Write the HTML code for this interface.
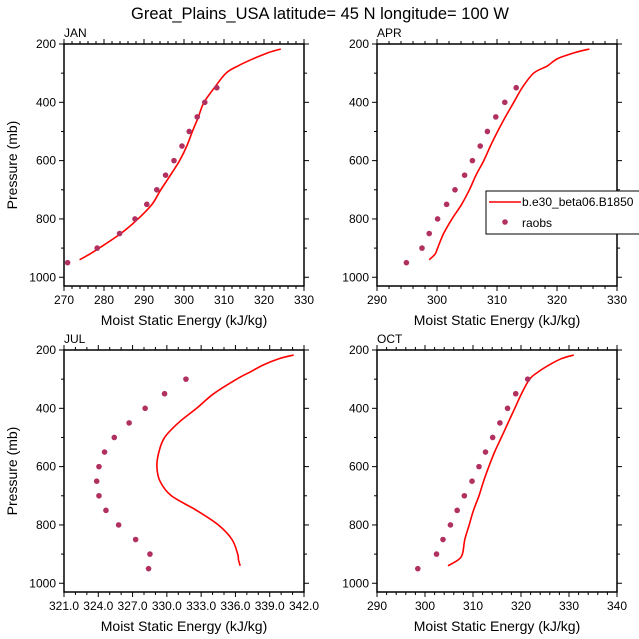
<!DOCTYPE html>
<html><head><meta charset="utf-8"><style>
body{margin:0;background:#fff}
svg{display:block;font-family:"Liberation Sans",sans-serif}
</style></head><body>
<svg id="c" width="639" height="639" viewBox="0 0 639 639">
<text x="320" y="19" text-anchor="middle" font-size="16.5">Great_Plains_USA  latitude= 45 N longitude= 100 W</text>
</svg>
<script>
const months = ["JAN","APR","JUL","OCT"];
const pLevels = [950,900,850,800,750,700,650,600,550,500,450,400,350,300];
const obsJAN = [270.9,278.3,283.9,287.75,290.7,293.2,295.4,297.5,299.5,301.3,303.3,305.2,308.2];
const obsAPR = [294.9,297.5,298.7,300.1,301.6,303.0,304.6,305.9,307.2,308.4,309.8,311.3,313.2];
const obsJUL = [328.4,328.52,327.27,325.78,324.67,324.06,323.86,324.06,324.55,325.4,326.7,328.1,329.8,331.67];
const obsOCT = [298.5,302.4,303.75,305.3,306.7,308.2,309.8,311.25,312.6,314.1,315.6,317.2,318.9,321.4];
const modP = [940,920,900,850,800,750,700,650,600,550,500,450,400,350,300,275,250,230,217];
const modJAN = [273.9,276.5,278.8,284.2,288.5,292.0,294.2,296.6,298.9,300.7,302.1,303.6,305.0,307.6,310.5,313.5,317.4,321,324.2];
const modAPR = [298.7,299.7,300.1,301.1,302.5,304.1,305.4,306.5,307.8,308.9,310.1,311.4,312.8,314.2,316.1,318.4,320.1,322.9,325.4];
const modJUL = [336.42,336.27,336.2,335.7,334.5,332.6,330.4,329.4,329.13,329.3,329.8,331.0,332.6,334.1,336.1,337.3,338.5,339.8,341.1];
const modOCT = [304.8,306.9,307.8,308.3,309.2,310.1,311.25,312.2,313.3,314.5,315.9,317.3,318.7,320.1,321.8,323.6,326,328.4,331];
const xTicksJAN = [270,280,290,300,310,320,330];
const xTicksAPR = [290,300,310,320,330];
const xTicksJUL = ["321.0","324.0","327.0","330.0","333.0","336.0","339.0","342.0"];
const xTicksOCT = [290,300,310,320,330,340];
const yTicks = [200,400,600,800,1000];

const NS="http://www.w3.org/2000/svg";
const svg=document.getElementById('c');
function mk(tag,attrs,parent){const e=document.createElementNS(NS,tag);for(const k in attrs)e.setAttribute(k,attrs[k]);(parent||svg).appendChild(e);return e;}
function smooth(P){
 let d='M'+P[0][0].toFixed(1)+','+P[0][1].toFixed(1);
 for(let i=0;i<P.length-1;i++){
  const p0=P[i-1]||P[i],p1=P[i],p2=P[i+1],p3=P[i+2]||P[i+1];
  const c1=[p1[0]+(p2[0]-p0[0])/6,p1[1]+(p2[1]-p0[1])/6];
  const c2=[p2[0]-(p3[0]-p1[0])/6,p2[1]-(p3[1]-p1[1])/6];
  d+=' C'+c1.map(v=>v.toFixed(1)).join(',')+' '+c2.map(v=>v.toFixed(1)).join(',')+' '+p2.map(v=>v.toFixed(1)).join(',');
 }
 return d;
}

const panels=[
 {name:"jan",label:"JAN",L:64,T:44,xmin:270,xmax:330,minor:2,ticks:xTicksJAN,obs:obsJAN,mod:modJAN,ylab:true},
 {name:"apr",label:"APR",L:377,T:44,xmin:290,xmax:330,minor:2,ticks:xTicksAPR,obs:obsAPR,mod:modAPR,ylab:false},
 {name:"jul",label:"JUL",L:64,T:350,xmin:321,xmax:342,minor:1,ticks:xTicksJUL,obs:obsJUL,mod:modJUL,ylab:true},
 {name:"oct",label:"OCT",L:377,T:350,xmin:290,xmax:340,minor:2,ticks:xTicksOCT,obs:obsOCT,mod:modOCT,ylab:false}
];
const W=240,H=242,PMIN=200,PMAX=1030;
panels.forEach(pn=>{
 const g=mk('g',{});
 
 
 const xs=v=>pn.L+(v-pn.xmin)/(pn.xmax-pn.xmin)*W;
 const ys=p=>pn.T+(p-PMIN)/(PMAX-PMIN)*H;
 const B=pn.T+H,R=pn.L+W;
 for(let v=pn.xmin;v<=pn.xmax+1e-6;v+=pn.minor){
  const x=xs(v);const maj=pn.ticks.some(t=>Math.abs(parseFloat(t)-v)<1e-6);
  const len=maj?5:3;
  mk('line',{x1:x,x2:x,y1:B,y2:B+len,stroke:'#000','stroke-width':1},g);
  mk('line',{x1:x,x2:x,y1:pn.T,y2:pn.T-len,stroke:'#000','stroke-width':1},g);
 }
 for(let p=200;p<=1000;p+=100){
  const y=ys(p);const maj=p%200===0;const len=maj?5:3;
  mk('line',{x1:pn.L-len,x2:pn.L,y1:y,y2:y,stroke:'#000','stroke-width':1},g);
  mk('line',{x1:R,x2:R+len,y1:y,y2:y,stroke:'#000','stroke-width':1},g);
 }
 mk('rect',{x:pn.L,y:pn.T,width:W,height:H,fill:'none',stroke:'#000','stroke-width':1.5},g);
 pn.ticks.forEach(t=>{
  const e=mk('text',{x:xs(parseFloat(t)),y:B+18,'text-anchor':'middle','font-size':12},g);
  e.textContent=t;
  
  
 });
 yTicks.forEach(t=>{
  const e=mk('text',{x:pn.L-8,y:ys(t)+4,'text-anchor':'end','font-size':12},g);
  e.textContent=t;
  
  
 });
 const xt=mk('text',{x:pn.L+W/2,y:B+39,'text-anchor':'middle','font-size':14},g);
 xt.textContent="Moist Static Energy (kJ/kg)";
 
 
 if(pn.ylab){
  const yt=mk('text',{x:0,y:0,'text-anchor':'middle','font-size':14,transform:`translate(17,${pn.T+H/2}) rotate(-90)`},g);
  yt.textContent="Pressure (mb)";
  
  
 }
 const lb=mk('text',{x:pn.L,y:pn.T-7,'font-size':12},g);
 lb.textContent=pn.label;
 
 
 const P=pn.mod.map((v,i)=>[xs(v),ys(modP[i])]);
 const pl=mk('path',{d:smooth(P),fill:'none',stroke:'#ff0000','stroke-width':1.6,'stroke-linejoin':'round'},g);
 
 
 pn.obs.forEach((v,i)=>{
  const c=mk('circle',{cx:xs(v),cy:ys(pLevels[i]),r:2.8,fill:'#b03060'},g);
  
  
 });
});
const lg=mk('g',{});


mk('rect',{x:486,y:191,width:160,height:43,fill:'#fff',stroke:'#000','stroke-width':1},lg);
mk('line',{x1:489,x2:521,y1:202,y2:202,stroke:'#ff0000','stroke-width':1.6},lg);
const l1=mk('text',{x:522,y:206,'font-size':12},lg);l1.textContent="b.e30_beta06.B1850";


mk('circle',{cx:505,cy:222,r:2.8,fill:'#b03060'},lg);
const l2=mk('text',{x:522,y:227,'font-size':12},lg);l2.textContent="raobs";


</script>
</body></html>
